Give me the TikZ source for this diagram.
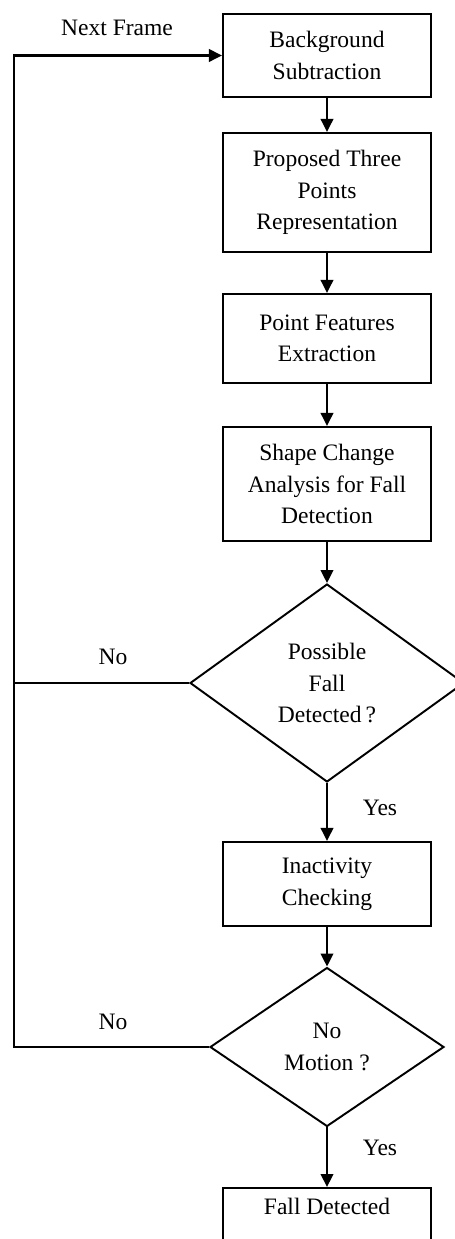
\documentclass[tikz,border=0pt]{standalone}
\usepackage{fontspec}
\setmainfont{Liberation Serif}
\usetikzlibrary{arrows.meta,positioning,shapes.geometric}
\newcommand{\fsz}{\fontsize{13.4}{18}\selectfont}
\tikzset{
  ar/.style={-{Triangle[length=2.6mm,width=2.5mm]},line width=1.2pt},
  ln/.style={line width=1.2pt},
  box/.style={draw,line width=1.2pt,align=center,minimum width=4.16cm,inner sep=2pt,font=\fsz},
  dm/.style={diamond,draw,line width=1.1pt,align=center,inner sep=0pt,font=\fsz},
  lb/.style={font=\fsz}
}

\begin{document}
\begin{tikzpicture}[x=0.02cm,y=-0.02cm]
\useasboundingbox (0,0) rectangle (455,1239);
% main column
\node[box,minimum height=1.66cm] (bg) at (327,55.5) {Background\\Subtraction};
\node[box,minimum height=2.38cm] (prop) at (327,192.5) {Proposed Three\\Points\\Representation};
\node[box,minimum height=1.78cm] (feat) at (327,338.5) {Point Features\\Extraction};
\node[box,minimum height=2.28cm] (shape) at (327,484) {Shape Change\\Analysis for Fall\\Detection};
\node[dm,minimum width=5.48cm,minimum height=3.96cm] (poss) at (327,683) {Possible\\Fall\\Detected\,?};
\node[box,minimum height=1.68cm] (inact) at (327,884) {Inactivity\\Checking};
\node[dm,minimum width=4.68cm,minimum height=3.18cm] (nomo) at (327,1047) {No\\Motion ?};
\node[box,anchor=north,inner ysep=6pt,text depth=0.9cm] (fall) at (327,1187) {Fall Detected};
% labels
\node[lb] (next) at (117,28) {Next Frame};
\node[lb] (no1) at (113,657) {No};
\node[lb] (no2) at (113,1022) {No};
\node[lb] (yes1) at (380,808) {Yes};
\node[lb] (yes2) at (380,1148) {Yes};
% arrows
\draw[ar] (bg) -- (prop);
\draw[ar] (prop) -- (feat);
\draw[ar] (feat) -- (shape);
\draw[ar] (shape) -- (poss);
\draw[ar] (poss) -- (inact);
\draw[ar] (inact) -- (nomo);
\draw[ar] (nomo) -- (fall);
% feedback loop
\coordinate (lp) at (14,1047);
\draw[ar] (nomo.west) -- (lp) |- (bg.west);
\draw[ln] (poss.west) -- (poss.west -| lp);
\end{tikzpicture}
\end{document}
